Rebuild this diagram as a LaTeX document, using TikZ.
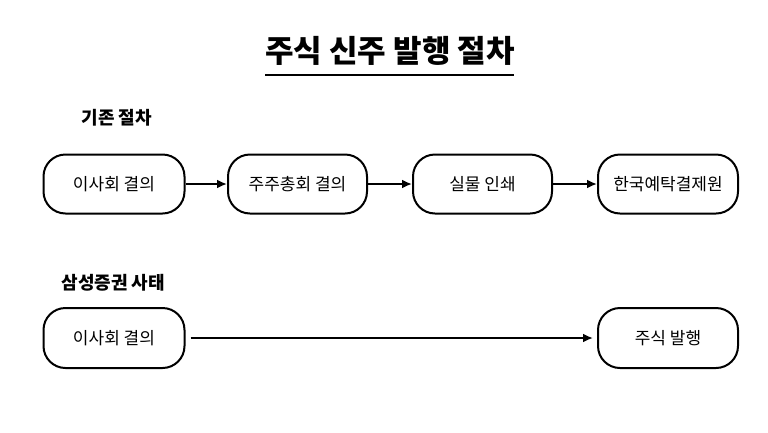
\documentclass[tikz,border=0pt]{standalone}
\usepackage{fontspec}
\setmainfont{Noto Sans CJK KR}
\usetikzlibrary{arrows.meta}
\begin{document}
\begin{tikzpicture}[x=1pt,y=-1pt,
  proc/.style={draw, line width=2pt, rounded corners=22pt, minimum width=141pt, minimum height=59pt, inner sep=0pt, font=\fontsize{17}{20}\selectfont},
  head/.style={font=\fontsize{18}{21}\selectfont\bfseries, anchor=west},
  arr/.style={-{Latex[length=10pt,width=9pt]}, line width=2pt}]
\useasboundingbox (0,0) rectangle (768,432);
\node[font=\fontsize{31}{36}\selectfont\bfseries] (title) at (390,51) {주식 신주 발행 절차};
\draw[line width=2pt] (265,75) -- (514,75);
\node[head] (h1) at (78,118) {기존 절차};
\node[head] (h2) at (58,283) {삼성증권 사태};
\node[proc] (a1) at (114,184) {이사회 결의};
\node[proc, minimum width=139pt] (a2) at (297.5,184) {주주총회 결의};
\node[proc, minimum width=139pt] (a3) at (482.5,184) {실물 인쇄};
\node[proc, minimum width=140pt] (a4) at (668,184) {한국예탁결제원};
\node[proc, minimum width=141pt, minimum height=60pt] (b1) at (114,338) {이사회 결의};
\node[proc, minimum width=140pt, minimum height=60pt] (b2) at (668,338) {주식 발행};
\draw[arr] (a1) -- (a2);
\draw[arr] (a2) -- (a3);
\draw[arr] (a3) -- (a4);
\draw[arr, shorten <=5pt, shorten >=4pt] (b1) -- (b2);
\end{tikzpicture}
\end{document}
